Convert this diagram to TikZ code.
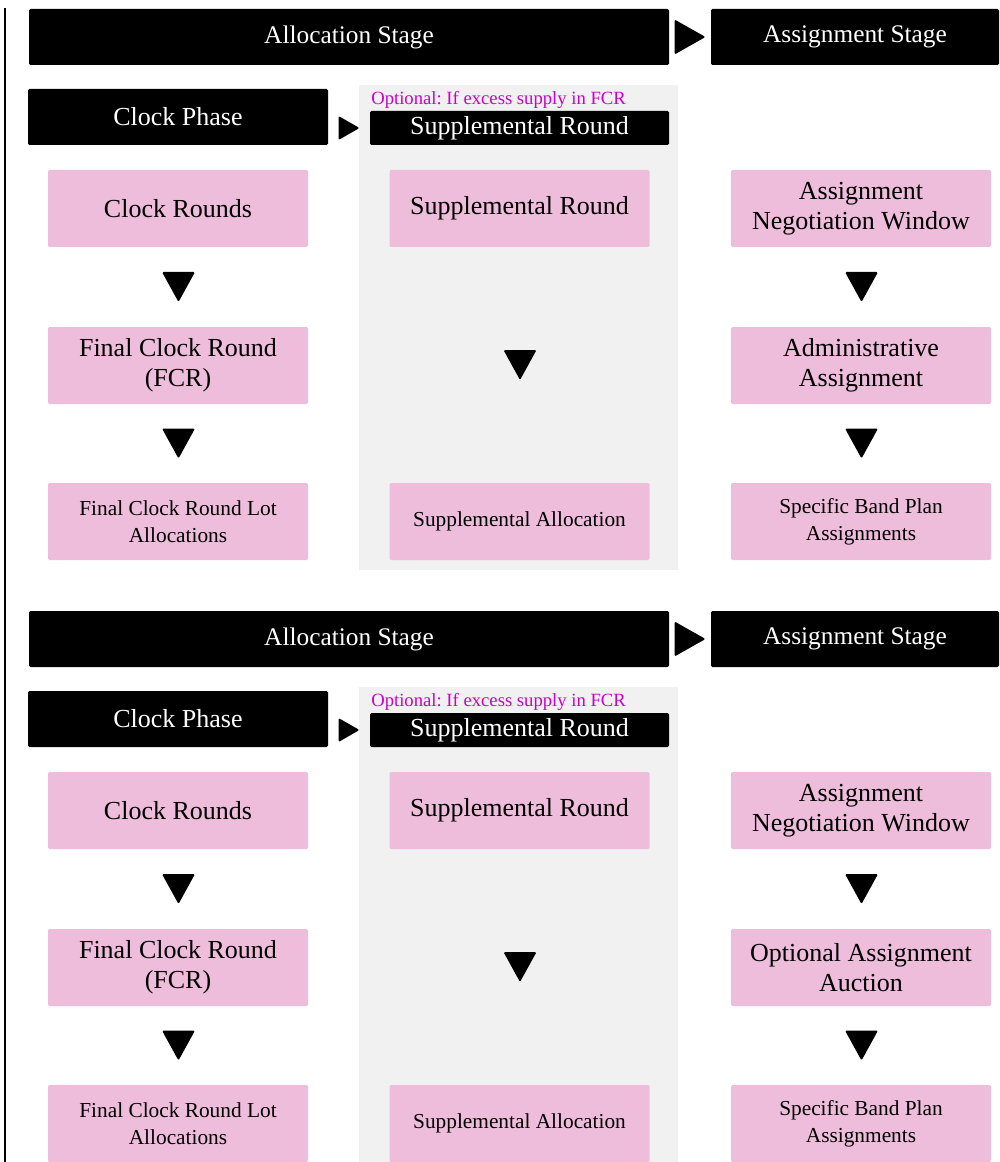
\documentclass[tikz,border=0pt]{standalone}
\usepackage{fontspec}
\setmainfont{Liberation Serif}
\usetikzlibrary{calc}
\definecolor{boxpink}{RGB}{239,189,220}
\definecolor{panelgray}{RGB}{241,241,241}
\definecolor{notemagenta}{RGB}{204,0,204}
\frenchspacing
\tikzset{
	stagebar/.style={fill=black, text=white, rounded corners=1pt, inner sep=0pt, minimum height=42pt, font=\fontsize{19}{22}\selectfont},
	phasebar/.style={fill=black, text=white, rounded corners=1pt, inner sep=0pt, font=\fontsize{19.5}{22}\selectfont},
	stepbox/.style={fill=boxpink, rounded corners=1pt, inner sep=0pt, minimum width=195pt, minimum height=57.75pt, align=center, font=\fontsize{19.5}{22.5}\selectfont},
	smallbox/.style={stepbox, font=\fontsize{16}{20}\selectfont},
	notetext/.style={text=notemagenta, inner sep=0pt, anchor=west, font=\fontsize{14}{16}\selectfont}
}
% down triangle between two boxes
\def\downtri(#1)(#2){\fill[rounded corners=1pt] ($(#1)!0.5!(#2)$) ++(-16,-15) -- ++(33,0) -- ++(-16.5,30) -- cycle;}
% right triangle at a point
\def\righttri(#1)(#2:#3){\fill[rounded corners=1pt] (#1) ++(-#2/2,-#3/2) -- ++(0,#3) -- ++(#2,-#3/2) -- cycle;}
% one panel: #1 offset, #2 prefix, #3 middle right box
\newcommand\stagepanel[3]{%
\begin{scope}[shift={(0,#1)}]
	\fill[panelgray] (359,85) rectangle (678,570);
	
	\node[stagebar, minimum width=480pt] (#2alloc) at (349,37) {Allocation Stage};
	\node[stagebar, minimum width=216pt] (#2assign) at (855,37) {Assignment Stage};
	\righttri($(#2alloc.east)!0.5!(#2assign.west)$)(31:35)
	
	\node[phasebar, minimum width=225pt, minimum height=42pt] (#2clock) at (178,117) {Clock Phase};
	\node[phasebar, minimum width=224.25pt, minimum height=25.5pt] (#2supp) at (519.5,128) {Supplemental Round};
	\node[notetext] (#2note) at (371,100) {Optional: If excess supply in FCR};
	\righttri($(#2supp.west -| #2clock.east)!0.5!(#2supp.west)$)(21:24)
	
	\node[stepbox] (#2rounds) at (178,208.5) {Clock Rounds};
	\node[stepbox] (#2fcr) at (178,365.5) {Final Clock Round\\(FCR)};
	\node[smallbox] (#2lots) at (178,521.5) {Final Clock Round Lot\\Allocations};
	\downtri(#2rounds.south)(#2fcr.north)
	\downtri(#2fcr.south)(#2lots.north)
	
	\node[stepbox] (#2round) at (519.5,208.5) {Supplemental Round};
	\node[smallbox] (#2salloc) at (519.5,521.5) {Supplemental Allocation};
	\downtri(#2round.south)(#2salloc.north)
	
	\node[stepbox] (#2window) at (861,208.5) {Assignment\\Negotiation Window};
	\node[stepbox] (#2method) at (861,365.5) {#3};
	\node[smallbox] (#2plan) at (861,521.5) {Specific Band Plan\\Assignments};
	\downtri(#2window.south)(#2method.north)
	\downtri(#2method.south)(#2plan.north)
\end{scope}}

\begin{document}
\begin{tikzpicture}[x=0.75pt, y=-0.75pt]
	%%%%% START %%%%%
	\useasboundingbox (0,0) rectangle (999,1162);
	\begin{scope}
		\clip (0,0) rectangle (999,1162);
		
		\stagepanel{0}{a}{Administrative\\Assignment}
		\stagepanel{602}{b}{Optional Assignment\\Auction}
		
		\draw[line width=1.5pt] (5,8) -- (5,1162);
	\end{scope}
	%%%%% END %%%%%
\end{tikzpicture}
\end{document}
